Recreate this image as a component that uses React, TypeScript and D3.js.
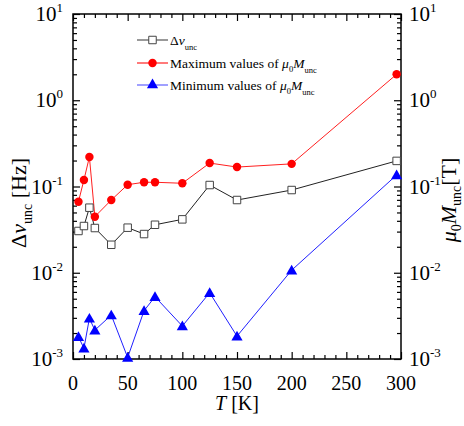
import React, { useEffect, useRef } from 'react';
import * as d3 from 'd3';

const temps = [5, 10, 15, 20, 35, 50, 65, 75, 100, 125, 150, 200, 296];
const deltaNu = [0.0305, 0.0348, 0.0568, 0.033, 0.0211, 0.0333, 0.0281, 0.036, 0.0416, 0.104, 0.0697, 0.091, 0.198];
const maxM = [0.0667, 0.119, 0.22, 0.0447, 0.0697, 0.105, 0.112, 0.112, 0.109, 0.187, 0.168, 0.183, 2.0];
const minM = [0.00181, 0.00133, 0.00296, 0.00216, 0.00323, 0.00104, 0.00363, 0.00527, 0.00241, 0.00586, 0.00184, 0.0107, 0.136];

const xTicks = [0, 50, 100, 150, 200, 250, 300];
const decades = [-3, -2, -1, 0, 1];

const FONT = 'Liberation Serif, Times New Roman, Times, DejaVu Serif, serif';

export default function App() {
  const svgRef = useRef<SVGSVGElement>(null);

  useEffect(() => {
    const width = 464;
    const height = 426;
    const margin = { top: 14, right: 63, bottom: 67, left: 73 };
    const iw = width - margin.left - margin.right;
    const ih = height - margin.top - margin.bottom;

    const root = d3.select(svgRef.current);
    root.selectAll('*').remove();
    root.attr('width', width).attr('height', height).attr('font-family', FONT);

    const svg = root.append('g').attr('transform', `translate(${margin.left}, ${margin.top})`);

    const x = d3.scaleLinear().domain([0, 300]).range([0, iw]);
    const y = d3.scaleLog().domain([1e-3, 10]).range([ih, 0]);

    const minorX = d3.range(0, 301, 10).filter(v => v % 50 !== 0);
    const minorY: number[] = [];
    decades.slice(0, -1).forEach(d => {
      for (let k = 2; k <= 9; k++) minorY.push(k * Math.pow(10, d));
    });
    const majorY = decades.map(d => Math.pow(10, d));

    // ticks pointing inward on all four sides
    const addAxis = (axis: any, tr: string) => {
      const g = svg.append('g').attr('transform', tr).call(axis);
      g.select('.domain').remove();
      g.selectAll('text').remove();
      g.selectAll('line').attr('stroke', '#000').attr('stroke-width', 1.2);
    };
    addAxis(d3.axisBottom(x).tickValues(xTicks).tickSize(-7), `translate(0, ${ih})`);
    addAxis(d3.axisBottom(x).tickValues(minorX).tickSize(-4), `translate(0, ${ih})`);
    addAxis(d3.axisTop(x).tickValues(xTicks).tickSize(-7), 'translate(0, 0)');
    addAxis(d3.axisTop(x).tickValues(minorX).tickSize(-4), 'translate(0, 0)');
    addAxis(d3.axisLeft(y).tickValues(majorY).tickSize(-7), 'translate(0, 0)');
    addAxis(d3.axisLeft(y).tickValues(minorY).tickSize(-4), 'translate(0, 0)');
    addAxis(d3.axisRight(y).tickValues(majorY).tickSize(-7), `translate(${iw}, 0)`);
    addAxis(d3.axisRight(y).tickValues(minorY).tickSize(-4), `translate(${iw}, 0)`);

    svg.append('rect')
      .attr('width', iw).attr('height', ih)
      .attr('fill', 'none').attr('stroke', '#000').attr('stroke-width', 1.5);

    // x tick labels
    svg.append('g').selectAll('text').data(xTicks).enter().append('text')
      .attr('x', d => x(d)).attr('y', ih + 31)
      .attr('text-anchor', 'middle')
      .attr('font-family', FONT).attr('font-size', 20)
      .text(d => d);

    // y tick labels, both sides
    const decLabel = (g: any, anchor: string, xpos: number) => {
      const t = g.selectAll('text').data(decades).enter().append('text')
        .attr('x', xpos).attr('y', (d: number) => y(Math.pow(10, d)) + 7)
        .attr('text-anchor', anchor)
        .attr('font-family', FONT).attr('font-size', 21);
      t.append('tspan').text('10');
      t.append('tspan').attr('dy', -9).attr('font-size', 13).text((d: number) => d);
    };
    decLabel(svg.append('g'), 'end', -10);
    decLabel(svg.append('g'), 'start', iw + 8);

    // series
    const pts = (vals: number[]) => temps.map((t, i) => [t, vals[i]] as [number, number]);
    const line = d3.line<[number, number]>().x(d => x(d[0])).y(d => y(d[1]));

    svg.append('path').datum(pts(deltaNu)).attr('d', line)
      .attr('fill', 'none').attr('stroke', '#222').attr('stroke-width', 1);
    svg.append('path').datum(pts(maxM)).attr('d', line)
      .attr('fill', 'none').attr('stroke', '#ff2020').attr('stroke-width', 1);
    svg.append('path').datum(pts(minM)).attr('d', line)
      .attr('fill', 'none').attr('stroke', '#2020ff').attr('stroke-width', 1);

    const sym = {
      square: d3.symbol().type(d3.symbolSquare).size(56),
      circle: d3.symbol().type(d3.symbolCircle).size(56),
      triangle: d3.symbol().type(d3.symbolTriangle).size(54),
    };

    svg.append('g').selectAll('path').data(pts(maxM)).enter().append('path')
      .attr('d', sym.circle()).attr('transform', d => `translate(${x(d[0])}, ${y(d[1])})`)
      .attr('fill', '#ff0000');
    svg.append('g').selectAll('path').data(pts(deltaNu)).enter().append('path')
      .attr('d', sym.square()).attr('transform', d => `translate(${x(d[0])}, ${y(d[1])})`)
      .attr('fill', '#fff').attr('stroke', '#444').attr('stroke-width', 1);
    svg.append('g').selectAll('path').data(pts(minM)).enter().append('path')
      .attr('d', sym.triangle()).attr('transform', d => `translate(${x(d[0])}, ${y(d[1]) + 1})`)
      .attr('fill', '#0000ff');

    // legend
    const legend = root.append('g').attr('transform', 'translate(137, 0)');
    const items = [
      { y: 40, stroke: '#555', marker: sym.square, fill: '#fff', mstroke: '#444', main: 'Δ', it: 'ν', sub: 'unc' },
      { y: 63, stroke: '#ff2020', marker: sym.circle, fill: '#ff0000', mstroke: 'none', main: 'Maximum values of ', it: 'μ', sub0: '0', it2: 'M', sub: 'unc' },
      { y: 85, stroke: '#6060ff', marker: sym.triangle, fill: '#0000ff', mstroke: 'none', main: 'Minimum values of ', it: 'μ', sub0: '0', it2: 'M', sub: 'unc' },
    ];
    items.forEach((it: any) => {
      const g = legend.append('g').attr('transform', `translate(0, ${it.y})`);
      g.append('line').attr('x1', 0).attr('x2', 31).attr('stroke', it.stroke).attr('stroke-width', 1.2);
      g.append('path').attr('d', it.marker()).attr('transform', 'translate(15.5, 0)')
        .attr('fill', it.fill).attr('stroke', it.mstroke);
      const t = g.append('text').attr('x', 33).attr('y', 5)
        .attr('font-family', FONT).attr('font-size', 13.5);
      t.append('tspan').text(it.main);
      t.append('tspan').attr('font-style', 'italic').text(it.it);
      if (it.sub0) {
        t.append('tspan').attr('dy', 4).attr('font-size', 8.5).text(it.sub0);
        t.append('tspan').attr('dy', -4).attr('font-style', 'italic').text(it.it2);
      }
      t.append('tspan').attr('dy', 5).attr('font-size', 8.5).text(it.sub);
    });

    // axis titles
    const xt = svg.append('text').attr('x', iw / 2).attr('y', ih + 51)
      .attr('text-anchor', 'middle').attr('font-family', FONT).attr('font-size', 20);
    xt.append('tspan').attr('font-style', 'italic').text('T');
    xt.append('tspan').text(' [K]');

    const yl = root.append('text').attr('transform', 'translate(26, 203) rotate(-90)')
      .attr('text-anchor', 'middle').attr('font-family', FONT).attr('font-size', 22);
    yl.append('tspan').text('Δ');
    yl.append('tspan').attr('font-style', 'italic').text('ν');
    yl.append('tspan').attr('dy', 6).attr('font-size', 14).text('unc');
    yl.append('tspan').attr('dy', -6).text(' [Hz]');

    const yr = root.append('text').attr('transform', 'translate(456, 200) rotate(-90)')
      .attr('text-anchor', 'middle').attr('font-family', FONT).attr('font-size', 22);
    yr.append('tspan').attr('font-style', 'italic').text('μ');
    yr.append('tspan').attr('dy', 5).attr('font-size', 14).text('0');
    yr.append('tspan').attr('dy', -5).attr('font-style', 'italic').text('M');
    yr.append('tspan').attr('dy', 5).attr('font-size', 14).text('unc');
    yr.append('tspan').attr('dy', -5).text('[T]');
  }, []);

  return (
    <svg ref={svgRef} style={{ position: 'absolute', left: 0, top: 0, background: '#fff' }} />
  );
}
